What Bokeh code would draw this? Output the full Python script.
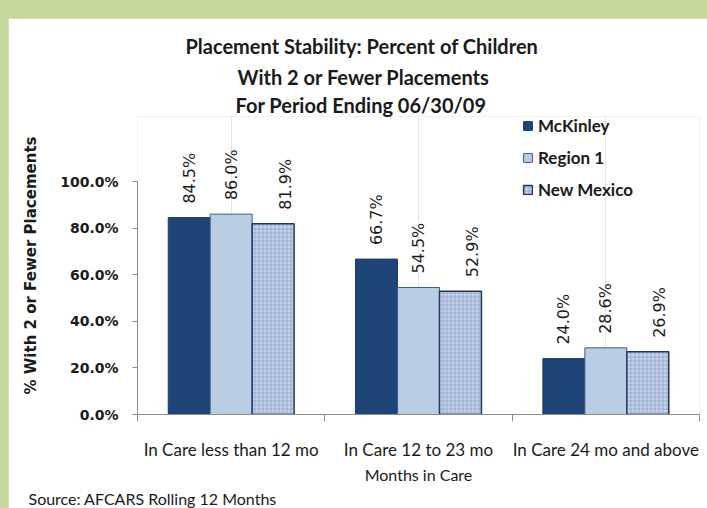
import math
from bokeh.plotting import figure
from bokeh.models import (FactorRange, Range1d, LinearAxis, CategoricalAxis, FixedTicker,
                          PrintfTickFormatter, Legend, LegendItem, Title, ColumnDataSource)
from bokeh.transform import dodge
from bokeh.embed import file_html
from bokeh.resources import INLINE
from bokeh.core.properties import value
from bokeh.core.templates import get_env

# ---------------- data ----------------
categories = ["In Care less than 12 mo", "In Care 12 to 23 mo", "In Care 24 mo and above"]
series = ["McKinley", "Region 1", "New Mexico"]
mckinley = [84.5, 66.7, 24.0]
region_1 = [86.0, 54.5, 28.6]
new_mexico = [81.9, 52.9, 26.9]
y_ticks = [0, 20, 40, 60, 80, 100]
title_lines = ["Placement Stability: Percent of Children",
               "With 2 or Fewer Placements",
               "For Period Ending 06/30/09"]
y_label = "% With 2 or Fewer Placements"
x_label = "Months in Care"
source_note = "Source: AFCARS  Rolling 12 Months"

# ---------------- styles ----------------
fill_colors = ["#1f4478", "#b9cde5", "#c3d0e6"]
line_colors = ["#1c3a66", "#3d5d8a", "#1f3864"]
line_widths = [1, 1, 1.5]
label_dx = [0, 0, 12]
axis_gray = "#8c8c8c"
txt = "#1a1a1a"
bar_w = 0.224
title_offsets = [48, 100, 98]
title_standoffs = [6, 4, 0]

src = ColumnDataSource(dict(
    cat=categories,
    s0=mckinley, s1=region_1, s2=new_mexico,
    t0=[f"{v:.1f}%" for v in mckinley],
    t1=[f"{v:.1f}%" for v in region_1],
    t2=[f"{v:.1f}%" for v in new_mexico],
))

p = figure(width=699, height=490,
           x_range=FactorRange(*categories, range_padding=0),
           y_range=Range1d(0, 127.9),
           x_axis_location=None, title=None,
           output_backend="svg", toolbar_location=None,
           min_border_left=129, min_border_right=8,
           min_border_top=98, min_border_bottom=94)
p.outline_line_color = None
p.background_fill_color = "white"
p.border_fill_color = "white"
p.ygrid.visible = False

offsets = [-bar_w, 0, bar_w]
rends = []
for i, name in enumerate(series):
    extra = {}
    if i == 2:
        extra = dict(hatch_pattern="cross", hatch_scale=4, hatch_color="#7d97c6",
                     hatch_alpha=0.55, hatch_weight=1)
    r = p.vbar(x=dodge("cat", offsets[i], range=p.x_range), top=f"s{i}", width=bar_w,
               source=src, fill_color=fill_colors[i], line_color=line_colors[i],
               line_width=line_widths[i], **extra)
    rends.append(r)
    p.text(x=dodge("cat", offsets[i], range=p.x_range), y=f"s{i}", text=f"t{i}",
           angle=math.pi / 2, text_align="left", text_baseline="middle",
           y_offset=-14, x_offset=label_dx[i], source=src,
           text_font=value("DejaVu Sans"), text_font_size="16px", text_color=txt)

# y axis
ya = p.yaxis[0]
ya.bounds = (0, 100)
ya.ticker = FixedTicker(ticks=y_ticks)
ya.formatter = PrintfTickFormatter(format="%.1f%%")
ya.minor_tick_line_color = None
ya.major_tick_in = 0
ya.major_tick_out = 5
ya.axis_line_color = axis_gray
ya.major_tick_line_color = axis_gray
ya.major_label_text_font = "DejaVu Sans"
ya.major_label_text_font_size = "14px"
ya.major_label_text_font_style = "bold"
ya.major_label_text_color = txt
ya.major_label_standoff = 14
ya.axis_label = y_label
ya.axis_label_text_font = "DejaVu Sans"
ya.axis_label_text_font_size = "15px"
ya.axis_label_text_font_style = "bold"
ya.axis_label_text_color = txt
ya.axis_label_standoff = 17

# x axis: boundary ticks between categories (as minor ticks, no labels) + category labels
edge_axis = LinearAxis(ticker=FixedTicker(ticks=[], minor_ticks=list(range(len(categories) + 1))),
                       major_tick_line_color=None,
                       minor_tick_in=0, minor_tick_out=7,
                       axis_line_color=axis_gray, minor_tick_line_color=axis_gray)
p.add_layout(edge_axis, "below")

cat_axis = CategoricalAxis(axis_line_color=None, major_tick_line_color=None,
                           minor_tick_line_color=None, major_label_standoff=11,
                           major_label_text_font="Lato", major_label_text_font_size="17px",
                           major_label_text_color=txt,
                           axis_label=x_label, axis_label_standoff=2,
                           axis_label_text_font="Lato", axis_label_text_font_size="16px",
                           axis_label_text_font_style="normal", axis_label_text_color=txt)
p.add_layout(cat_axis, "below")

p.add_layout(Title(text=source_note, align="left", offset=-109, standoff=0,
                   text_font="Lato", text_font_size="16px", text_font_style="normal",
                   text_color=txt), "below")

for line, off, so in reversed(list(zip(title_lines, title_offsets, title_standoffs))):
    p.add_layout(Title(text=line, align="left", offset=off, standoff=so,
                       text_font="Lato", text_font_size="20px", text_font_style="bold",
                       text_color=txt), "above")

legend = Legend(items=[LegendItem(label=s, renderers=[r]) for s, r in zip(series, rends)],
                location=(385, 214), orientation="vertical",
                glyph_width=11, glyph_height=11, label_height=18, spacing=11,
                label_standoff=5, padding=0, margin=0,
                border_line_color=None, background_fill_alpha=0,
                label_text_font="Lato", label_text_font_size="17px",
                label_text_font_style="bold", label_text_color=txt)
p.add_layout(legend)

tmpl = get_env().from_string(
    '{% extends "file.html" %}{% block postamble %}<style>'
    'html,body{margin:0;padding:0;}'
    'body{background:#c5d79b;padding:18px 0 0 8px;}'
    '</style>{% endblock %}')

open("out.html", "w").write(file_html(p, INLINE, template=tmpl))
